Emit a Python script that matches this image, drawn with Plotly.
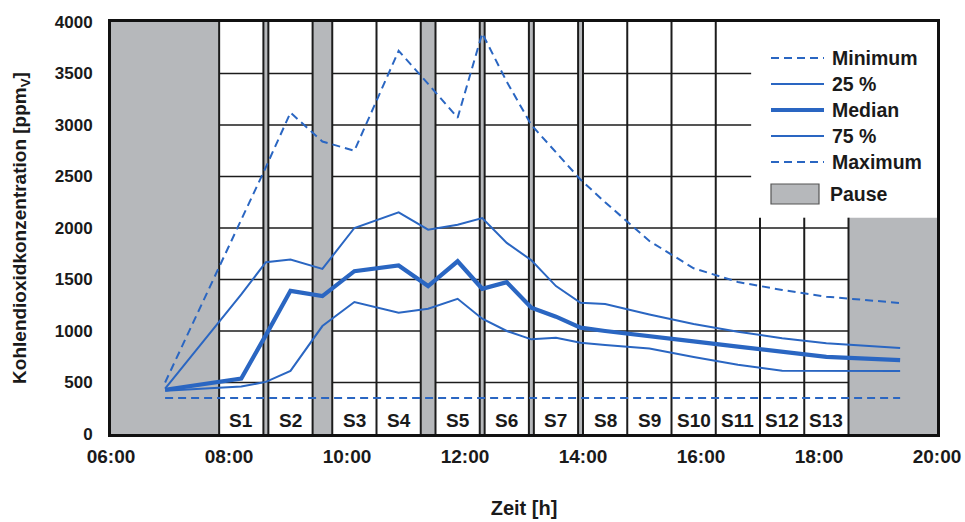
import plotly.graph_objects as go

# ---------------- data ----------------
# sample times (hours of day)
times = [6.917, 8.208, 8.625, 9.042, 9.583, 10.125, 10.875, 11.375, 11.875, 12.292,
         12.708, 13.125, 13.542, 13.958, 14.375, 15.125, 15.875, 16.625, 17.375,
         18.125, 19.375]

co2_min = [350] * len(times)
co2_p25 = [420, 461, 506, 613, 1048, 1281, 1177, 1216, 1313, 1119,
           1000, 919, 935, 887, 865, 830, 747, 673, 613, 613, 612]
co2_median = [430, 539, 960, 1390, 1339, 1581, 1636, 1436, 1677, 1410,
              1474, 1226, 1139, 1032, 1000, 955, 900, 848, 800, 748, 718]
co2_p75 = [440, 1355, 1668, 1694, 1603, 2000, 2152, 1984, 2032, 2097,
           1855, 1687, 1436, 1274, 1262, 1160, 1067, 993, 930, 880, 835]
co2_max = [500, 2073, 2591, 3120, 2840, 2750, 3720, 3400, 3070, 3890,
           3420, 3000, 2738, 2470, 2250, 1874, 1609, 1476, 1398, 1333, 1272]

# lessons (start, end in hours) and their labels
lesson_labels = ["S1", "S2", "S3", "S4", "S5", "S6", "S7", "S8", "S9", "S10", "S11", "S12", "S13"]
lesson_start = [7.833, 8.667, 9.75, 10.5, 11.5, 12.333, 13.167, 14.0, 14.75, 15.5, 16.25, 17.0, 17.75]
lesson_end = [8.583, 9.417, 10.5, 11.25, 12.25, 13.083, 13.917, 14.75, 15.5, 16.25, 17.0, 17.75, 18.5]

# pauses (start, end in hours)
pause_start = [6.0, 8.583, 9.417, 11.25, 12.25, 13.083, 13.917, 18.5]
pause_end = [7.833, 8.667, 9.75, 11.5, 12.333, 13.167, 14.0, 20.0]

x_tickvals = [6, 8, 10, 12, 14, 16, 18, 20]
x_ticktext = ["06:00", "08:00", "10:00", "12:00", "14:00", "16:00", "18:00", "20:00"]
y_tickvals = [0, 500, 1000, 1500, 2000, 2500, 3000, 3500, 4000]

# ---------------- styling ----------------
FONT = "Liberation Sans, Arial, sans-serif"
BLUE = "#2a66c2"
GRAY = "#b6b8bb"
GRID = "#1c1c1c"
TXT = "#1a1a1a"
DASH = "8px,5px"
Y_MAX = 4000
LEGEND_X0 = 16.85    # left edge of legend area (hours)
LEGEND_Y0 = 2100     # bottom edge of legend area (ppm)

fig = go.Figure()

shapes = []
# pause rectangles
for s, e in zip(pause_start, pause_end):
    top = LEGEND_Y0 if (s >= LEGEND_X0 - 1.0 and e >= 19.9) else Y_MAX
    shapes.append(dict(type="rect", xref="x", yref="y", x0=s, x1=e, y0=0, y1=top,
                       fillcolor=GRAY, line=dict(width=0), layer="below"))

# horizontal grid lines across lessons
for v in y_tickvals[1:-1]:
    for s, e in zip(lesson_start, lesson_end):
        ee = e
        if v > LEGEND_Y0:
            if s >= LEGEND_X0:
                continue
            ee = min(e, LEGEND_X0)
        shapes.append(dict(type="line", xref="x", yref="y", x0=s, x1=ee, y0=v, y1=v,
                           line=dict(color=GRID, width=1.6), layer="below"))

# vertical lesson boundary lines
bounds = sorted(set(lesson_start) | set(lesson_end))
for b in bounds:
    top = Y_MAX if b < LEGEND_X0 else LEGEND_Y0
    shapes.append(dict(type="line", xref="x", yref="y", x0=b, x1=b, y0=0, y1=top,
                       line=dict(color=GRID, width=2), layer="below"))

# series
series = [
    ("Minimum", co2_min, 2, DASH),
    ("25 %", co2_p25, 2, "solid"),
    ("Median", co2_median, 4.2, "solid"),
    ("75 %", co2_p75, 2, "solid"),
    ("Maximum", co2_max, 2, DASH),
]
for name, vals, w, dash in series:
    fig.add_trace(go.Scatter(
        x=times, y=vals, mode="lines", name=name, showlegend=False,
        line=dict(color=BLUE, width=w, dash=dash),
    ))

# legend (drawn in paper coordinates, upper right)
PW, PH = 826.0, 412.0           # plot area size in px
def px_x(p):
    return (p - 111) / PW
def px_y(p):
    return (434 - p) / PH

leg_y = [58, 84, 110, 136, 162]
for (name, vals, w, dash), yy in zip(series, leg_y):
    shapes.append(dict(type="line", xref="paper", yref="paper",
                       x0=px_x(771), x1=px_x(824), y0=px_y(yy), y1=px_y(yy),
                       line=dict(color=BLUE, width=w, dash=dash)))
    fig.add_annotation(x=px_x(830), y=px_y(yy), xref="paper", yref="paper",
                       text=name, showarrow=False, xanchor="left", yanchor="middle",
                       font=dict(family=FONT, size=19.5, color=TXT, weight="bold"))
# pause legend entry
shapes.append(dict(type="rect", xref="paper", yref="paper",
                   x0=px_x(771), x1=px_x(819), y0=px_y(204), y1=px_y(184),
                   fillcolor=GRAY, line=dict(color="#555", width=1.2)))
fig.add_annotation(x=px_x(828), y=px_y(194), xref="paper", yref="paper",
                   text="Pause", showarrow=False, xanchor="left", yanchor="middle",
                   font=dict(family=FONT, size=19.5, color=TXT, weight="bold"))

fig.update_layout(shapes=shapes)

# lesson labels
for lab, s, e in zip(lesson_labels, lesson_start, lesson_end):
    fig.add_annotation(x=(s + e) / 2, y=135, xref="x", yref="y", text=lab,
                       showarrow=False, font=dict(family=FONT, size=19, color=TXT, weight="bold"),
                       xanchor="center", yanchor="middle")

fig.update_layout(
    width=965, height=522,
    margin=dict(l=111, r=28, t=22, b=88, autoexpand=False),
    paper_bgcolor="white", plot_bgcolor="white",
    font=dict(family=FONT, color=TXT),
    showlegend=False,
    xaxis=dict(
        range=[6, 20], tickvals=x_tickvals, ticktext=x_ticktext,
        showgrid=False, zeroline=False, automargin=False,
        showline=True, linecolor="#111", linewidth=3, mirror=True,
        ticks="", ticklabelstandoff=3,
        tickfont=dict(family=FONT, size=19, color=TXT, weight="bold"),
        title=dict(text="Zeit [h]", standoff=36,
                   font=dict(family=FONT, size=20, color=TXT, weight="bold")),
    ),
    yaxis=dict(
        range=[0, Y_MAX], tickvals=y_tickvals,
        showgrid=False, zeroline=False, automargin=False,
        showline=True, linecolor="#111", linewidth=3, mirror=True,
        ticks="", ticklabelstandoff=12,
        tickfont=dict(family=FONT, size=17, color=TXT, weight="bold"),
        title=dict(text="Kohlendioxidkonzentration [ppm<sub>V</sub>]", standoff=24,
                   font=dict(family=FONT, size=19, color=TXT, weight="bold")),
    ),
)

fig.write_html("out.html")
